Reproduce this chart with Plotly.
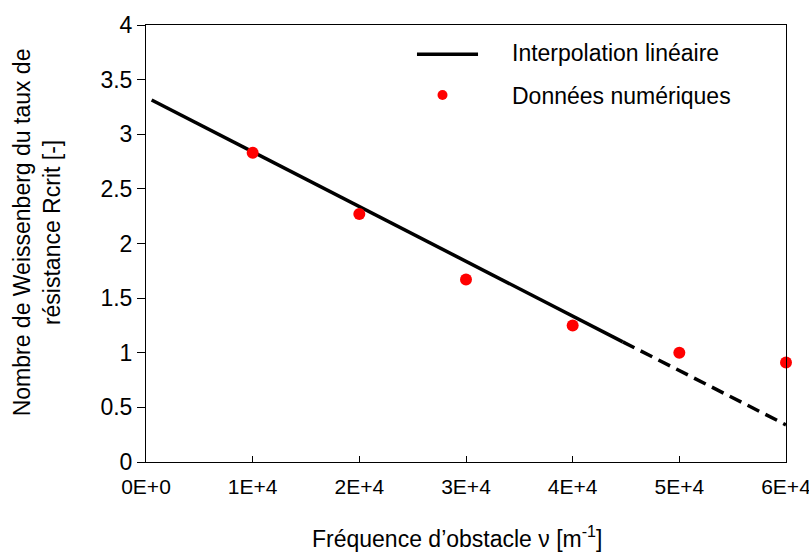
import plotly.graph_objects as go

# Data
freq_points = [10000, 20000, 30000, 40000, 50000, 60000]
rcrit_points = [2.83, 2.27, 1.67, 1.25, 1.0, 0.91]

fit_solid_x = [530, 44700]
fit_solid_y = [3.314, 1.10]
fit_dash_x = [44700, 60000]
fit_dash_y = [1.10, 0.34]

x_tickvals = [0, 10000, 20000, 30000, 40000, 50000, 60000]
x_ticktext = ["0E+0", "1E+4", "2E+4", "3E+4", "4E+4", "5E+4", "6E+4"]
y_tickvals = [0, 0.5, 1, 1.5, 2, 2.5, 3, 3.5, 4]
y_ticktext = ["0", "0.5", "1", "1.5", "2", "2.5", "3", "3.5", "4"]

legend_labels = ["Interpolation linéaire", "Données numériques"]
x_title = "Fréquence d’obstacle ν [m<sup>-1</sup>]"
y_title = "Nombre de Weissenberg du taux de<br>résistance Rcrit [-]"

FONT = "Liberation Sans, Arial, sans-serif"
FS = 23

fig = go.Figure()
fig.add_trace(go.Scatter(x=fit_solid_x, y=fit_solid_y, mode="lines",
                         line=dict(color="black", width=3.5),
                         name=legend_labels[0], showlegend=False))
fig.add_trace(go.Scatter(x=fit_dash_x, y=fit_dash_y, mode="lines",
                         line=dict(color="black", width=3.5, dash="13px,7px"),
                         showlegend=False))
fig.add_trace(go.Scatter(x=freq_points, y=rcrit_points, mode="markers",
                         marker=dict(color="#ff0000", size=12),
                         name=legend_labels[1], showlegend=False,
                         cliponaxis=False))

# Hand-drawn legend (paper coordinates)
fig.add_shape(type="line", xref="paper", yref="paper",
              x0=0.4234, x1=0.5188, y0=0.933, y1=0.933,
              line=dict(color="black", width=3.5))
fig.add_shape(type="circle", xref="paper", yref="paper",
              x0=0.4555, x1=0.4711, y0=0.8284, y1=0.8513,
              fillcolor="#ff0000", line=dict(color="#ff0000", width=0))
fig.add_annotation(xref="paper", yref="paper", x=0.569, y=0.936,
                   xanchor="left", yanchor="middle", showarrow=False,
                   text=legend_labels[0], font=dict(family=FONT, size=FS))
fig.add_annotation(xref="paper", yref="paper", x=0.569, y=0.838,
                   xanchor="left", yanchor="middle", showarrow=False,
                   text=legend_labels[1], font=dict(family=FONT, size=FS))

# Y axis title (two centred lines)
fig.add_annotation(xref="paper", yref="paper", x=-0.170, y=0.526,
                   xanchor="center", yanchor="middle", showarrow=False,
                   textangle=-90, text=y_title,
                   font=dict(family=FONT, size=FS))

# X axis title
fig.add_annotation(xref="paper", yref="paper", x=0.486, y=-0.172,
                   xanchor="center", yanchor="middle", showarrow=False,
                   text=x_title, font=dict(family=FONT, size=FS))

fig.update_layout(
    width=809, height=552,
    margin=dict(l=146, r=23, t=25, b=90),
    paper_bgcolor="white", plot_bgcolor="white",
    font=dict(family=FONT, size=FS, color="black"),
    showlegend=False,
    xaxis=dict(range=[0, 60000], tickvals=x_tickvals, ticktext=x_ticktext,
               showgrid=False, zeroline=False, showline=True, linecolor="black",
               linewidth=1, mirror=True, ticks="inside", ticklen=6,
               tickcolor="black", tickfont=dict(size=21), automargin=False,
               ticklabeloverflow="allow", ticklabelstandoff=6),
    yaxis=dict(range=[0, 4], tickvals=y_tickvals, ticktext=y_ticktext,
               showgrid=False, zeroline=False, showline=True, linecolor="black",
               linewidth=1, mirror=True, ticks="outside", ticklen=8,
               tickcolor="black", tickfont=dict(size=FS), automargin=False,
               ticklabeloverflow="allow"),
)

# Remove the default page margin so the 809x552 figure fills the window exactly.
fig.write_html("out.html",
               config={"displayModeBar": False},
               post_script="document.body.style.margin='0';"
                           "document.body.style.overflow='hidden';")
